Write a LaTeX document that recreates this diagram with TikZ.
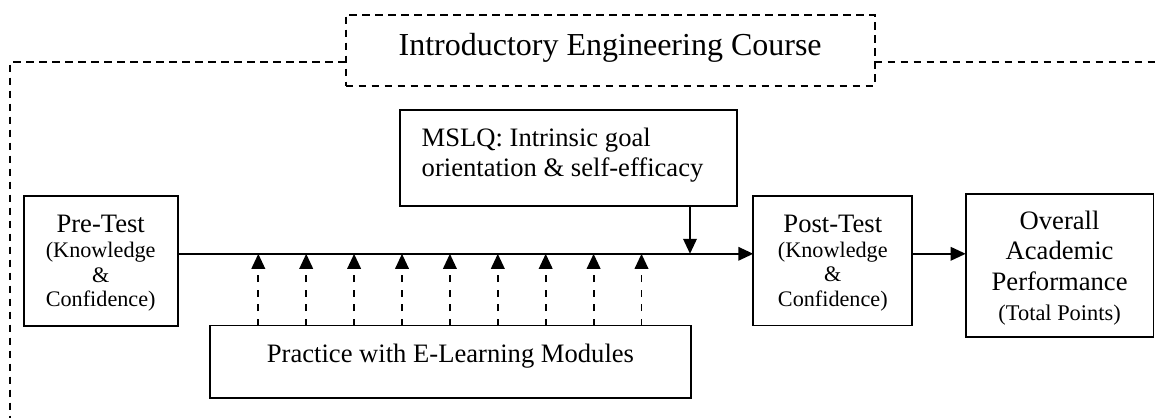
\documentclass[tikz,border=0pt]{standalone}
\usepackage{fontspec}
\setmainfont{Liberation Serif}
\usetikzlibrary{arrows.meta}
\newcommand{\fA}{\fontsize{26.6pt}{30.6pt}\selectfont}
\newcommand{\fB}{\fontsize{22.2pt}{24.5pt}\selectfont}
\newcommand{\fT}{\fontsize{32pt}{36pt}\selectfont}
\tikzset{
  bx/.style={draw, line width=1.9pt, inner sep=0pt, outer sep=0pt, anchor=north west},
  dbx/.style={bx, dash pattern=on 7.5pt off 5.5pt},
  arr/.style={line width=1.9pt, -{Triangle[length=15pt,width=13.5pt]}},
  darr/.style={arr, dash pattern=on 7pt off 7.5pt},
  framest/.style={line width=1.9pt, dash pattern=on 7.5pt off 5.5pt},
}
\begin{document}
\begin{tikzpicture}[x=1pt,y=-1pt]
\path[fill=white,use as bounding box] (0,0) rectangle (1159,418);

% title
\node[dbx] (title) at (345.7,14.7) {\begin{minipage}[t][71.3pt][t]{528.9pt}\centering
\fT\rule{0pt}{40.3pt}Introductory Engineering Course\par\end{minipage}};

% MSLQ
\node[bx] (mslq) at (400.4,110) {\begin{minipage}[t][95.7pt][t]{336.5pt}\raggedright\leftskip=21.3pt
\fA\rule{0pt}{36pt}MSLQ: Intrinsic goal\par
orientation \& self-efficacy\par\end{minipage}};

% Pre-Test
\node[bx] (pre) at (23.7,196.2) {\begin{minipage}[t][129.5pt][t]{154pt}\centering
\fA\rule{0pt}{36.1pt}Pre-Test\par
\fB\baselineskip=25.2pt (Knowledge\par
\baselineskip=24.5pt \&\par
Confidence)\par\end{minipage}};

% Post-Test
\node[bx] (post) at (753.3,195.7) {\begin{minipage}[t][129.8pt][t]{159pt}\centering
\fA\rule{0pt}{36.5pt}Post-Test\par
\fB\baselineskip=25.2pt (Knowledge\par
\baselineskip=24.5pt \&\par
Confidence)\par\end{minipage}};

% Overall
\node[bx] (overall) at (965.7,194) {\begin{minipage}[t][143.3pt][t]{187.8pt}\centering
\fA\rule{0pt}{35pt}Overall\par
Academic\par
Performance\par
\fontsize{22.4pt}{30.4pt}\selectfont (Total Points)\par\end{minipage}};

% Practice
\node[bx] (prac) at (210,325.5) {\begin{minipage}[t][72.2pt][t]{480.9pt}\centering
\fA\rule{0pt}{36.8pt}Practice with E-Learning Modules\par\end{minipage}};

% outer dashed frame
\coordinate (fc) at (10.3,62);
\draw[framest] (title.west |- fc) -- (fc) -- (10.3,418);
\draw[framest] (title.east |- fc) -- (1159,62);

% main line
\coordinate (ly) at (0,253.8);
\draw[arr] (pre.east |- ly) -- (post.west |- ly);
\draw[arr] (post.east |- ly) -- (overall.west |- ly);

% MSLQ arrow
\coordinate (m) at (690,253.8);
\draw[arr] (mslq.south -| m) -- (m);

% dashed arrows from practice
\foreach \i in {0,...,8}{
  \coordinate (a\i) at ({258.3+47.9*\i},253.8);
  \draw[darr] (prac.north -| a\i) -- (a\i);
}
\end{tikzpicture}
\end{document}
